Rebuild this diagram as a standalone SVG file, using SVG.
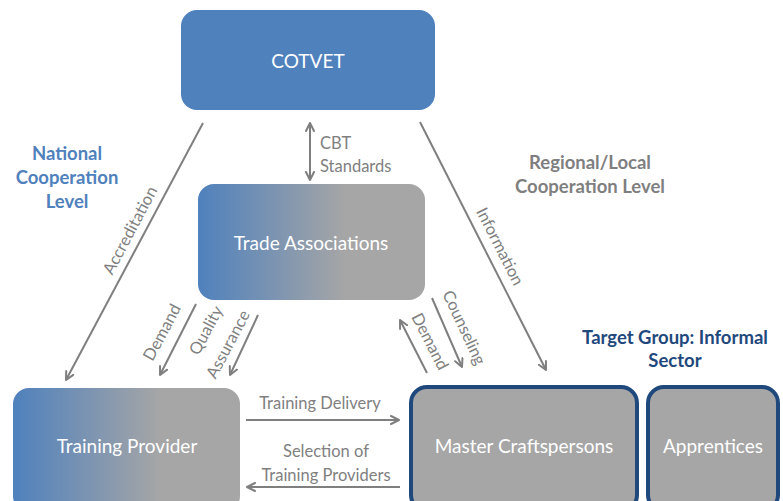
<svg xmlns="http://www.w3.org/2000/svg" width="783" height="501" viewBox="0 0 783 501">
<style>
.lbl{font-family:Lato,"Open Sans","Liberation Sans",sans-serif;font-size:16.5px;fill:#7f7f7f}
.node{font-family:Lato,"Open Sans","Liberation Sans",sans-serif;font-size:19px;fill:#ffffff;text-anchor:middle}
.hd{font-family:Lato,"Open Sans","Liberation Sans",sans-serif;font-size:18.5px;font-weight:bold;text-anchor:middle}
.ln{stroke:#7f7f7f;stroke-width:2;fill:none}
</style>
<defs>
<linearGradient id="g" x1="0" y1="0" x2="1" y2="0">
<stop offset="0" stop-color="#4f81bd"/>
<stop offset="0.65" stop-color="#a6a6a6"/>
<stop offset="1" stop-color="#a6a6a6"/>
</linearGradient>
<marker id="ah" viewBox="0 0 10 10" refX="9" refY="5" markerWidth="5" markerHeight="5" orient="auto-start-reverse" markerUnits="strokeWidth">
<path d="M1,1 L9,5 L1,9" fill="none" stroke="#7f7f7f" stroke-width="2" stroke-linecap="round" stroke-linejoin="round"/>
</marker>
</defs>
<rect width="783" height="501" fill="#ffffff"/>

<g id="labels-levels">
<text class="hd" fill="#4f81bd" x="67" y="160">National</text>
<text class="hd" fill="#4f81bd" x="67" y="184">Cooperation</text>
<text class="hd" fill="#4f81bd" x="67" y="208">Level</text>
<text class="hd" fill="#7f7f7f" x="590" y="169">Regional/Local</text>
<text class="hd" fill="#7f7f7f" x="590" y="193">Cooperation Level</text>
<text class="hd" fill="#1f497d" x="675" y="344">Target Group: Informal</text>
<text class="hd" fill="#1f497d" x="675" y="367">Sector</text>
</g>

<g id="connectors">
<line class="ln" x1="203" y1="123" x2="66" y2="380" marker-end="url(#ah)"/>
<text class="lbl" transform="translate(135,233) rotate(-62)" text-anchor="middle">Accreditation</text>

<line class="ln" x1="310" y1="123" x2="310" y2="180" marker-start="url(#ah)" marker-end="url(#ah)"/>
<text class="lbl" x="320" y="149">CBT</text>
<text class="lbl" x="320" y="172">Standards</text>

<line class="ln" x1="420" y1="122" x2="546" y2="370" marker-end="url(#ah)"/>
<text class="lbl" transform="translate(495,249) rotate(63)" text-anchor="middle">Information</text>

<line class="ln" x1="196" y1="304" x2="160" y2="375" marker-end="url(#ah)"/>
<text class="lbl" transform="translate(167,335) rotate(-62)" text-anchor="middle">Demand</text>

<line class="ln" x1="258" y1="315" x2="230" y2="375" marker-end="url(#ah)"/>
<text class="lbl" transform="translate(211,333) rotate(-62)" text-anchor="middle">Quality</text>
<text class="lbl" transform="translate(233,347) rotate(-62)" text-anchor="middle">Assurance</text>

<line class="ln" x1="427" y1="373" x2="400" y2="320" marker-end="url(#ah)"/>
<text class="lbl" transform="translate(425,344) rotate(63)" text-anchor="middle">Demand</text>

<line class="ln" x1="432" y1="298" x2="462" y2="367" marker-end="url(#ah)"/>
<text class="lbl" transform="translate(459,330) rotate(65)" text-anchor="middle">Counseling</text>

<line class="ln" x1="246" y1="420" x2="399" y2="420" marker-end="url(#ah)"/>
<text class="lbl" x="320" y="409" text-anchor="middle">Training Delivery</text>

<line class="ln" x1="400" y1="487" x2="247" y2="487" marker-end="url(#ah)"/>
<text class="lbl" x="326" y="457" text-anchor="middle">Selection of</text>
<text class="lbl" x="326" y="481" text-anchor="middle">Training Providers</text>
</g>

<g id="cotvet">
<rect x="181" y="10" width="254" height="100" rx="16" fill="#4f81bd"/>
<text class="node" x="308" y="68">COTVET</text>
</g>

<g id="trade-associations">
<rect x="198" y="184" width="227" height="116" rx="16" fill="url(#g)"/>
<text class="node" x="311" y="250">Trade Associations</text>
</g>

<g id="training-provider">
<rect x="13" y="388" width="227" height="124" rx="16" fill="url(#g)"/>
<text class="node" x="127" y="453">Training Provider</text>
</g>

<g id="master-craftspersons">
<rect x="411" y="387" width="226" height="124" rx="16" fill="#a6a6a6" stroke="#1f497d" stroke-width="4"/>
<text class="node" x="524" y="453">Master Craftspersons</text>
</g>

<g id="apprentices">
<rect x="648" y="387" width="130" height="124" rx="16" fill="#a6a6a6" stroke="#1f497d" stroke-width="4"/>
<text class="node" x="713" y="453">Apprentices</text>
</g>
</svg>
